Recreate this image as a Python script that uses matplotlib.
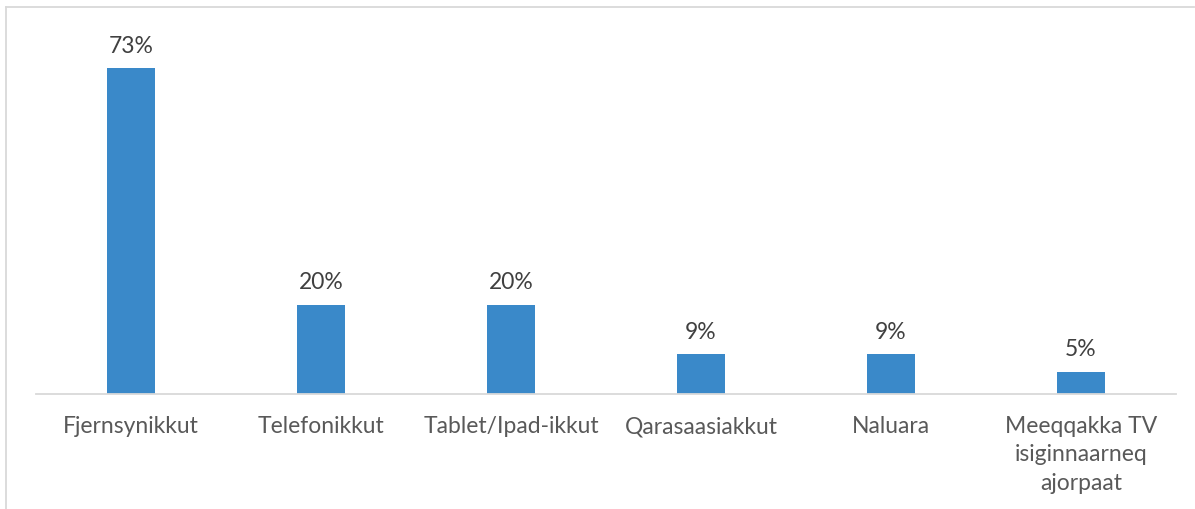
import matplotlib.pyplot as plt
from matplotlib.lines import Line2D

# Data
categories = ["Fjernsynikkut", "Telefonikkut", "Tablet/Ipad-ikkut",
              "Qarasaasiakkut", "Naluara", "Meeqqakka TV\nisiginnaarneq\najorpaat"]
values = [73, 20, 20, 9, 9, 5]
value_labels = ["73%", "20%", "20%", "9%", "9%", "5%"]

W, H = 1195, 509
fig = plt.figure(figsize=(W / 100, H / 100), dpi=100)
plt.rcParams['font.family'] = ['Lato', 'DejaVu Sans']

# axes placed in pixel coordinates
left, right, bottom, top = 36, 1176, 394, 20
ax = fig.add_axes([left / W, 1 - bottom / H, (right - left) / W, (bottom - top) / H])

x = range(len(categories))
ax.bar(x, values, width=0.25, color='#3A89C9', zorder=2)
ax.set_xlim(-0.5, len(categories) - 0.5)
ax.set_ylim(0, (bottom - top) / 4.47)

for xi, v, lab in zip(x, values, value_labels):
    ax.text(xi, v + 2.5, lab, ha='center', va='bottom', fontsize=16.5, color='#404040')

ax.set_xticks(list(x))
ax.set_xticklabels(categories, fontsize=16.5, color='#595959', linespacing=1.42, va='top')
ax.tick_params(axis='x', length=0, pad=16)
ax.set_yticks([])
for s in ['top', 'right', 'left']:
    ax.spines[s].set_visible(False)
ax.spines['bottom'].set_color('#D9D9D9')
ax.spines['bottom'].set_linewidth(1.3)

# outer chart border (top and left edges visible in the crop)
fig.add_artist(Line2D([6.5 / W, 1194 / W], [1 - 6.5 / H, 1 - 6.5 / H], color='#D9D9D9', lw=1.3))
fig.add_artist(Line2D([6.5 / W, 6.5 / W], [0, 1 - 6.5 / H], color='#D9D9D9', lw=1.3))

fig.savefig('out.png', dpi=100)
